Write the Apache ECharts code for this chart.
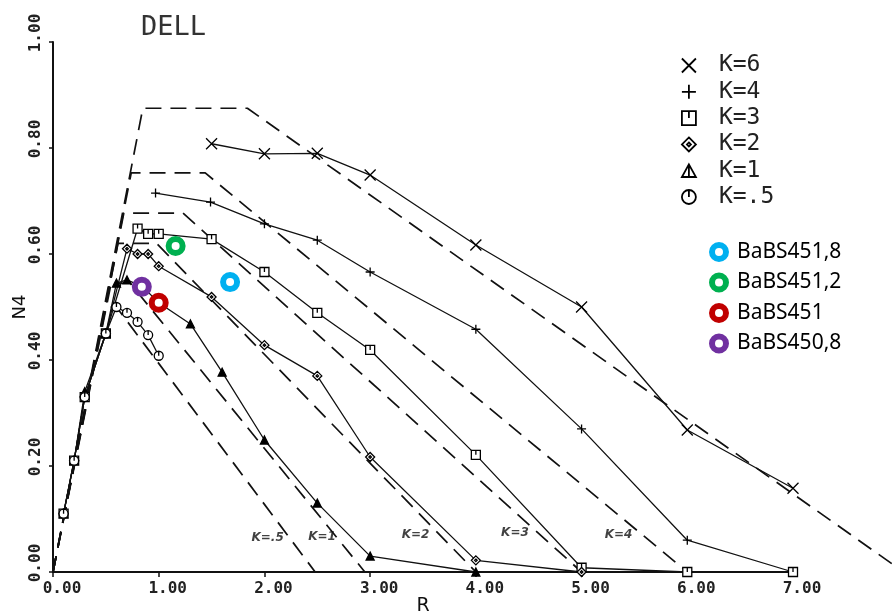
<!DOCTYPE html>
<html>
<head>
<meta charset="utf-8">
<script src="https://cdn.jsdelivr.net/npm/echarts@6/dist/echarts.min.js"></script>
<style>html,body{margin:0;padding:0;background:#fff}#c{width:893px;height:615px}</style>
</head>
<body>
<div id="c"></div>
<script>
// ---- data (R, N4) ----
const xTicks = [0, 1, 2, 3, 4, 5, 6, 7];
const yTicks = [0, 0.2, 0.4, 0.6, 0.8, 1.0];

const k6 = [[1.5,0.808],[2.0,0.789],[2.5,0.79],[3.0,0.749],[4.0,0.617],[5.0,0.50],[6.0,0.268],[7.0,0.158]];
const k4 = [[0.97,0.715],[1.49,0.698],[2.0,0.657],[2.5,0.626],[3.0,0.566],[4.0,0.458],[5.0,0.27],[6.0,0.06],[7.0,0.0]];
const k3 = [[0.1,0.11],[0.2,0.21],[0.3,0.33],[0.5,0.45],[0.8,0.648],[0.9,0.638],[1.0,0.638],[1.5,0.628],[2.0,0.566],[2.5,0.489],[3.0,0.419],[4.0,0.221],[5.0,0.008],[6.0,0.0],[7.0,0.0]];
const k2 = [[0.1,0.11],[0.2,0.21],[0.3,0.33],[0.5,0.45],[0.7,0.61],[0.8,0.60],[0.9,0.60],[1.0,0.577],[1.5,0.519],[2.0,0.428],[2.5,0.37],[3.0,0.217],[4.0,0.022],[5.0,0.0]];
const k1 = [[0.1,0.11],[0.2,0.21],[0.3,0.34],[0.5,0.45],[0.6,0.545],[0.7,0.551],[0.85,0.538],[1.0,0.508],[1.3,0.468],[1.6,0.377],[2.0,0.249],[2.5,0.13],[3.0,0.03],[4.0,0.0]];
const k05 = [[0.1,0.11],[0.2,0.21],[0.3,0.33],[0.5,0.45],[0.6,0.50],[0.7,0.489],[0.8,0.472],[0.9,0.447],[1.0,0.408]];

const dashK6 = [[0,0],[0.85,0.875],[1.84,0.875],[8.05,0]];
const dashK4 = [[0,0],[0.74,0.753],[1.44,0.753],[6.0,0]];
const dashK3 = [[0,0],[0.67,0.677],[1.23,0.677],[5.0,0]];
const dashK2 = [[0,0],[0.615,0.62],[0.98,0.62],[4.0,0]];
const dashK1 = [[0,0],[0.55,0.545],[0.73,0.545],[2.95,0]];
const dashK05 = [[0,0],[0.5,0.5],[0.6,0.5],[2.48,0]];

const babs4518 = [[1.675,0.547]];
const babs4512 = [[1.16,0.615]];
const babs451 = [[1.0,0.508]];
const babs4508 = [[0.84,0.538]];

const curveLabels = [[2.03,0.064,'K=.5'],[2.545,0.066,'K=1'],[3.43,0.070,'K=2'],[4.37,0.074,'K=3'],[5.35,0.070,'K=4'],[7.02,0.098,'K=6']];

// ---- styling ----
const SYM = {
  cross: 'path://M0,0L10,10M10,0L0,10',
  plus: 'path://M5,0L5,10M0,5L10,5',
  sq: 'path://M0,0L10,0L10,10L0,10ZM5,0L5,5',
  dia: 'path://M5,0L10,5L5,10L0,5ZM5,3.6L6.4,5L5,6.4L3.6,5Z',
  tri: 'path://M5,0L10,9L0,9ZM5,0L5,9',
  circ: 'path://M10,5A5,5,0,1,1,0,5A5,5,0,1,1,10,5ZM5,0L5,5'
};
const mono = 'DejaVu Sans Mono';

function solid(name, data, sym, size, fill) {
  return {
    name, type: 'line', data, symbol: sym, symbolSize: size, z: 3,
    lineStyle: { color: '#111', width: 1.3 },
    itemStyle: { color: fill || '#fff', borderColor: '#000', borderWidth: 1.3 },
    emphasis: { disabled: true }
  };
}
function dashed(name, data, idx) {
  return {
    name, type: 'line', data, symbol: 'none', z: 2,
    xAxisIndex: idx || 0, yAxisIndex: idx || 0,
    lineStyle: { color: '#111', width: 1.7, type: [16, 9] },
    emphasis: { disabled: true }, silent: true
  };
}
function ring(name, data, color) {
  return {
    name, type: 'scatter', data, symbol: 'circle', symbolSize: 14, z: 5,
    itemStyle: { color: '#fff', borderColor: color, borderWidth: 6, opacity: 1 },
    emphasis: { disabled: true }
  };
}

const chart = echarts.init(document.getElementById('c'), null, { renderer: 'canvas' });
chart.setOption({
  animation: false,
  backgroundColor: '#fff',
  title: {
    text: 'DELL', left: 136, top: 9,
    textStyle: { fontFamily: mono, fontSize: 27, fontWeight: 'normal', color: '#333' }
  },
  grid: [
    { left: 53, right: 100, top: 42, bottom: 43, containLabel: false, outerBoundsMode: 'none' },
    // same scale, extended to the right edge (for the K=6 bound running past R=7)
    { left: 53, right: 0, top: 42, bottom: 43, containLabel: false, outerBoundsMode: 'none' }
  ],
  xAxis: [{
    type: 'value', min: xTicks[0], max: xTicks[xTicks.length - 1], interval: 1,
    name: 'R', nameLocation: 'middle', nameGap: 25, nameMoveOverlap: false,
    nameTextStyle: { fontFamily: 'DejaVu Sans', fontSize: 19, color: '#111' },
    axisLine: { lineStyle: { color: '#111', width: 2 } },
    axisTick: { show: true, length: 5, lineStyle: { color: '#111', width: 1.5 } },
    axisLabel: {
      formatter: v => v.toFixed(2), fontFamily: mono, fontSize: 16, fontWeight: 'bold',
      color: '#222', margin: 9, padding: [0, 0, 0, 18]
    },
    splitLine: { show: false }
  }, {
    gridIndex: 1, type: 'value', min: 0, max: 7.95, show: false
  }],
  yAxis: [{
    type: 'value', min: yTicks[0], max: yTicks[yTicks.length - 1], interval: 0.2,
    name: 'N4', nameLocation: 'middle', nameGap: 24, nameRotate: 90, nameMoveOverlap: false,
    nameTextStyle: { fontFamily: 'DejaVu Sans', fontSize: 18, color: '#111' },
    axisLine: { lineStyle: { color: '#111', width: 2 } },
    axisTick: { show: true, length: 4, lineStyle: { color: '#111', width: 1.5 } },
    axisLabel: {
      formatter: v => v.toFixed(2), fontFamily: mono, fontSize: 16, fontWeight: 'bold',
      color: '#222', rotate: 90, margin: 9, padding: [0, 0, 0, 18]
    },
    splitLine: { show: false }
  }, {
    gridIndex: 1, type: 'value', min: 0, max: 1, show: false
  }],
  legend: [
    {
      orient: 'vertical', left: 681, top: 54, padding: 0, itemWidth: 14, itemHeight: 14, itemGap: 3.3,
      selectedMode: false,
      data: [
        { name: 'K=6', icon: SYM.cross }, { name: 'K=4', icon: SYM.plus },
        { name: 'K=3', icon: SYM.sq }, { name: 'K=2', icon: SYM.dia },
        { name: 'K=1', icon: SYM.tri }, { name: 'K=.5', icon: SYM.circ }
      ],
      itemStyle: { color: '#fff', borderColor: '#000', borderWidth: 1.8 },
      textStyle: { fontFamily: mono, fontSize: 23, color: '#222', lineHeight: 22, padding: [0, 0, 0, 18] }
    },
    {
      orient: 'vertical', left: 709, top: 241, padding: 0, itemWidth: 14, itemHeight: 14, itemGap: 8.5,
      selectedMode: false,
      data: [{ name: 'BaBS451,8', icon: 'circle' }, { name: 'BaBS451,2', icon: 'circle' },
             { name: 'BaBS451', icon: 'circle' }, { name: 'BaBS450,8', icon: 'circle' }],
      itemStyle: { color: '#fff', borderWidth: 6 },
      textStyle: { fontFamily: 'Noto Sans', fontSize: 21, color: '#000', lineHeight: 22, padding: [0, 0, 0, 6] }
    }
  ],
  series: [
    dashed('d6', dashK6, 1), dashed('d4', dashK4), dashed('d3', dashK3),
    dashed('d2', dashK2), dashed('d1', dashK1), dashed('d05', dashK05),
    solid('K=6', k6, SYM.cross, 11),
    solid('K=4', k4, SYM.plus, 9),
    solid('K=3', k3, SYM.sq, 9),
    solid('K=2', k2, SYM.dia, 9),
    solid('K=1', k1, SYM.tri, 8, '#000'),
    solid('K=.5', k05, SYM.circ, 9),
    {
      name: 'labels', type: 'scatter', data: curveLabels, symbolSize: 0, z: 4, silent: true,
      label: {
        show: true, position: 'inside', formatter: p => p.value[2],
        fontFamily: 'DejaVu Sans', fontStyle: 'italic', fontWeight: 'bold', fontSize: 12, color: '#111'
      }
    },
    ring('BaBS451,8', babs4518, '#00B0F0'),
    ring('BaBS451,2', babs4512, '#00B050'),
    ring('BaBS451', babs451, '#C00000'),
    ring('BaBS450,8', babs4508, '#7030A0')
  ]
});
</script>
</body>
</html>
